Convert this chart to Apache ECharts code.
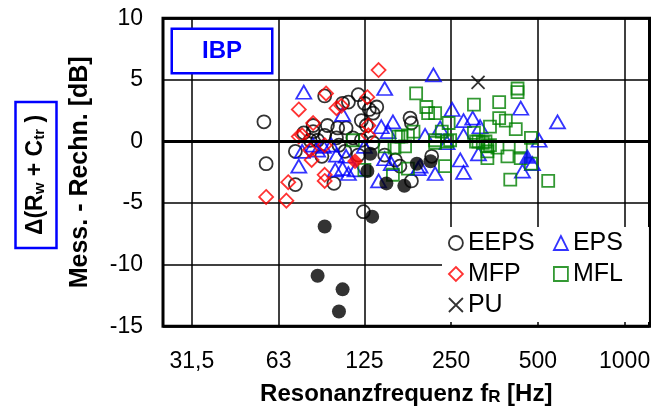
<!DOCTYPE html>
<html>
<head>
<meta charset="utf-8">
<script src="https://cdn.jsdelivr.net/npm/echarts@6/dist/echarts.min.js"></script>
<style>
  html, body { margin: 0; padding: 0; background: #fff; }
  #chart { width: 654px; height: 412px; }
</style>
</head>
<body>
<div id="chart"></div>
<script>
// Oktav-Achse (Hz) und dB-Achse
const xTicks = [31.5, 63, 125, 250, 500, 1000];

// [fR in Hz, Delta in dB]
const EEPS = [
  [56, 1.6], [57, -1.8], [72, -3.5], [98, -3.4], [124, -5.7], [91, 3.7], [105, 3.1], [110, 3.2],
  [119, 3.8], [125, 3.1], [130, 2.6], [134, 2.3], [138, 2.8], [122, 1.7], [127, 1.3], [108, 1.1],
  [93, 1.3], [101, 1.1], [83, 1.3], [83, 0.8], [77, 0.7], [81, 0.1], [86, 0.1], [91, 0.5],
  [100, 0.3], [114, 0.3], [72, -0.8], [89, -1.2], [107, -0.8], [119, -1.1], [122, 0.1], [134, -0.1],
  [180, 1.9], [182, 1.5], [147, -1.1], [166, -2.0], [182, -3.2], [214, -1.2], [102, -0.3], [160, -1.5]
];
const EPS = [
  [77, 4.0], [105, 2.2], [147, 4.3], [143, 1.2], [157, 1.6], [151, 0.8], [76, -0.8], [74, -2.0],
  [86, -0.7], [96, -0.3], [100, -1.1], [108, -1.2], [99, -2.3], [105, -2.2], [116, -2.3], [125, -0.4],
  [147, -1.4], [155, -1.8], [140, -3.2], [217, 5.4], [252, 2.6], [276, 1.7], [297, 1.9], [315, 1.2],
  [203, 0.5], [229, 1.1], [276, 0.5], [242, -0.1], [269, -1.5], [276, -2.5], [220, -2.6], [195, -2.0],
  [311, -1.0], [436, 2.7], [505, 0.1], [585, 1.6], [442, -2.4], [479, -1.8], [83, -0.3], [90, -0.4],
  [110, -2.6], [192, -2.2]
];
const MFP = [
  [140, 5.8], [92, 3.9], [74, 2.6], [100, 2.7], [104, 2.9], [128, 3.6], [83, 1.5], [74, 0.4],
  [76, 0.5], [129, 1.3], [129, 0.5], [91, -0.3], [81, -0.7], [82, -1.5], [68, -3.3], [91, -2.7],
  [91, -3.2], [57, -4.5], [67, -4.8]
];
const MFL = [
  [189, 3.9], [205, 2.8], [208, 2.3], [220, 2.3], [245, 1.5], [232, 0.8], [248, 0.1], [220, 0.1],
  [177, 0.5], [168, 0.4], [159, -0.5], [173, -0.4], [177, -2.2], [157, -2.7], [238, -2.0], [300, 3.0],
  [300, 0.7], [305, 0.0], [341, 1.2], [367, 3.2], [367, 1.9], [387, 1.7], [419, 1.0], [425, 4.3],
  [425, 4.0], [473, 0.3], [334, -0.4], [334, -0.8], [362, -0.5], [392, -1.2], [436, -0.5], [436, -1.35],
  [473, -1.8], [401, -3.1], [543, -3.2], [322, -0.1], [147, -0.4], [164, 0.4], [114, 0.1], [125, -2.3],
  [185, 0.8], [242, 0.0], [311, 0.0], [329, 0.0], [341, -0.3], [334, -1.35], [220, -0.1]
];
const PU = [[310, 4.8]];
// gefuellte Symbole (hervorgehobene Werte)
const EEPS_FILLED = [
  [91, -6.9], [86, -10.9], [105, -12.0], [102, -13.8], [133, -6.1], [131, -1.0], [128, -2.4],
  [149, -3.4], [172, -3.6], [190, -1.8], [212, -1.6]
];
const EPS_FILLED = [[460, -1.2]];
const MFP_FILLED = [[116, -1.6]];

const FONT = '"Liberation Sans", Arial, sans-serif';
const BLUE = '#0000ff';
const RED = '#ff0000';
const GREEN = '#008000';

const chart = echarts.init(document.getElementById('chart'));

function openSeries(name, data, symbol, size, color) {
  return {
    name: name,
    type: 'scatter',
    data: data,
    symbol: symbol,
    symbolSize: size,
    itemStyle: { color: 'rgba(0,0,0,0)', borderColor: color, borderWidth: 1.8 }
  };
}

function filledSeries(name, data, symbol, size, color) {
  return {
    name: name,
    type: 'scatter',
    data: data,
    symbol: symbol,
    symbolSize: size,
    itemStyle: { color: color }
  };
}

const eeps = openSeries('EEPS', EEPS, 'circle', 13, '#000');
// dicke Nulllinie
eeps.markLine = {
  silent: true,
  symbol: 'none',
  label: { show: false },
  lineStyle: { color: '#000', width: 3, type: 'solid' },
  data: [{ yAxis: 0 }]
};

const legendText = { fontFamily: FONT, fontSize: 25, color: '#000' };

chart.setOption({
  animation: false,
  textStyle: { fontFamily: FONT },
  grid: {
    left: 163, right: 4.5, top: 18.3, bottom: 85.7,
    show: true, borderColor: '#000', borderWidth: 3
  },
  legend: [{
    data: ['EEPS', 'MFP', 'PU'],
    orient: 'vertical',
    left: 442, top: 227,
    padding: [3.5, 11, 4.5, 6],
    itemGap: 6, itemWidth: 14, itemHeight: 14,
    backgroundColor: '#fff',
    itemStyle: { borderWidth: 1.8 },
    textStyle: legendText
  }, {
    data: ['EPS', 'MFL'],
    orient: 'vertical',
    left: 545, top: 227,
    padding: [3.5, 26, 35.5, 8],
    itemGap: 6, itemWidth: 14, itemHeight: 14,
    backgroundColor: '#fff',
    itemStyle: { borderWidth: 1.8 },
    textStyle: legendText
  }],
  xAxis: {
    type: 'log',
    logBase: 2,
    min: 25,
    max: 1220,
    axisLine: { show: false },
    axisTick: { show: false, customValues: xTicks },
    axisLabel: {
      customValues: xTicks,
      fontSize: 23, color: '#000', margin: 24,
      formatter: v => String(v).replace('.', ',')
    },
    splitLine: { show: true, lineStyle: { color: '#000', width: 1.5 } },
    name: '{a|Resonanzfrequenz f}{s|R}{a| [Hz]}',
    nameLocation: 'middle',
    nameGap: 56,
    nameTextStyle: {
      rich: {
        a: { fontFamily: FONT, fontSize: 24, fontWeight: 'bold', color: '#000' },
        s: { fontFamily: FONT, fontSize: 17, fontWeight: 'bold', color: '#000', verticalAlign: 'bottom' }
      }
    }
  },
  yAxis: {
    type: 'value',
    min: -15,
    max: 10,
    interval: 5,
    axisLine: { show: false },
    axisTick: { show: false },
    axisLabel: { fontSize: 23, color: '#000', margin: 20 },
    splitLine: { show: true, lineStyle: { color: '#000', width: 1.5 } },
    name: 'Mess. - Rechn. [dB]',
    nameLocation: 'middle',
    nameGap: 70,
    nameTextStyle: { fontFamily: FONT, fontSize: 25, fontWeight: 'bold', color: '#000' }
  },
  graphic: [{
    type: 'text',
    x: 222, y: 51,
    z: 10,
    style: {
      text: 'IBP',
      fontFamily: FONT, fontSize: 24, fontWeight: 'bold',
      fill: BLUE,
      align: 'center', verticalAlign: 'middle',
      padding: [9, 29, 9, 29],
      borderColor: BLUE, borderWidth: 2.5,
      backgroundColor: '#fff'
    }
  }, {
    type: 'text',
    x: 36, y: 175,
    rotation: Math.PI / 2,
    style: {
      text: '{a|Δ(R}{s|w}{a| + C}{s|tr}{a| )}',
      rich: {
        a: { fontFamily: FONT, fontSize: 23, fontWeight: 'bold', fill: '#000' },
        s: { fontFamily: FONT, fontSize: 15, fontWeight: 'bold', fill: '#000', verticalAlign: 'bottom' }
      },
      align: 'center', verticalAlign: 'middle',
      padding: [9, 13, 9, 13],
      borderColor: BLUE, borderWidth: 2.5
    }
  }],
  series: [
    eeps,
    openSeries('EPS', EPS, 'triangle', [15, 13], BLUE),
    openSeries('MFP', MFP, 'diamond', 14, RED),
    openSeries('MFL', MFL, 'rect', 12, GREEN),
    openSeries('PU', PU, 'path://M0,0L10,10M10,0L0,10', 13, '#000'),
    filledSeries('EEPS gefuellt', EEPS_FILLED, 'circle', 14, '#000'),
    filledSeries('EPS gefuellt', EPS_FILLED, 'triangle', [17, 15], BLUE),
    filledSeries('MFP gefuellt', MFP_FILLED, 'diamond', 16, RED)
  ]
});
</script>
</body>
</html>
